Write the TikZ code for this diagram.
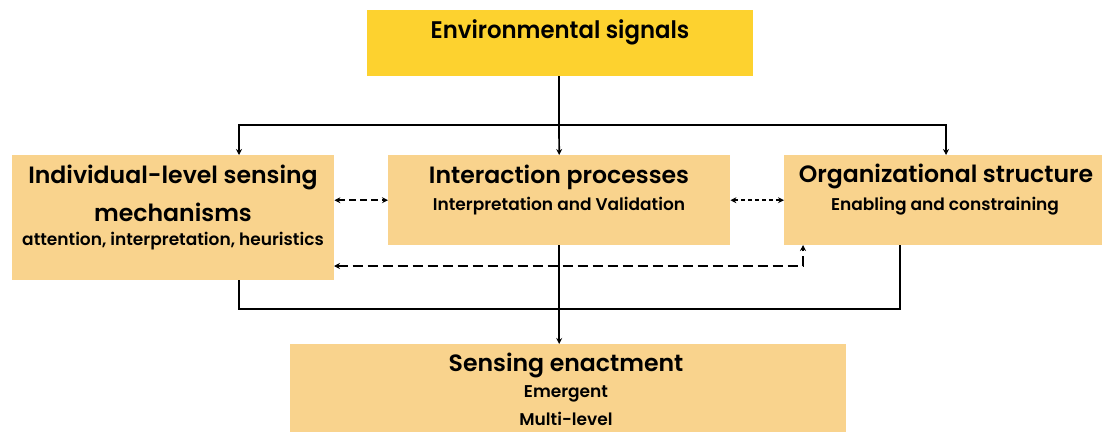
\documentclass[tikz,border=0pt]{standalone}
\usepackage{fontspec}
\setmainfont{Poppins}[BoldFont={Poppins SemiBold}]
\newfontfamily\condfont{Poppins SemiBold}[FakeStretch=0.95]
\usetikzlibrary{arrows.meta}
\definecolor{sigyellow}{HTML}{FDD22F}
\definecolor{boxorange}{HTML}{F9D38D}
\begin{document}
\begin{tikzpicture}[x=1pt,y=-1pt,
  box/.style={fill=boxorange, draw=none, inner sep=0, anchor=north west},
  ttl/.style={font=\bfseries\fontsize{23.6}{28}\selectfont, inner sep=0},
  sub/.style={font=\bfseries\fontsize{17}{20}\selectfont, inner sep=0},
  link/.style={line width=1.7pt, draw=black},
  arr/.style={link, -{Stealth[length=6pt,width=6pt]}},
  darr/.style={link, {Stealth[length=6pt,width=6pt]}-{Stealth[length=6pt,width=6pt]}},
]
\useasboundingbox (0,0) rectangle (1102,431);
\clip (0,0) rectangle (1102,431);

% boxes
\node[box, fill=sigyellow, minimum width=386pt, minimum height=66pt] (E) at (367,10) {};
\node[box, minimum width=322pt, minimum height=125pt] (L) at (12,155) {};
\node[box, minimum width=342pt, minimum height=90pt] (M) at (388,155) {};
\node[box, minimum width=324pt, minimum height=90pt] (R) at (784,155) {};
\node[box, minimum width=556pt, minimum height=100pt] (S) at (290,344) {};

% texts
\node[inner sep=0, font=\condfont\fontsize{24}{28}\selectfont] (Et) at (560,32) {Environmental signals};
\node[ttl] (Lt1) at (173,177) {Individual-level sensing};
\node[ttl] (Lt2) at (173,212) {mechanisms};
\node[sub] (Ls) at (173,241) {attention, interpretation, heuristics};
\node[ttl] (Mt) at (559,177) {Interaction processes};
\node[sub] (Ms) at (559,206) {Interpretation and Validation};
\node[ttl] (Rt) at (946,176) {Organizational structure};
\node[sub] (Rs) at (945,206) {Enabling and constraining};
\node[ttl] (St) at (566,365) {Sensing enactment};
\node[sub] (Ss1) at (566,394) {Emergent};
\node[sub] (Ss2) at (566,419) {Multi-level};

% branching from the environmental signals
\coordinate (split) at (559,125);
\coordinate (Lin) at (239,155);
\coordinate (Rin) at (946,155);
\draw[link] (E.south -| split) -- (split);
\draw[arr] (split) -- (M.north);
\draw[arr] (split) -| (Lin);
\draw[arr] (split) -| (Rin);

% feedback between the three levels
\draw[darr, dash pattern=on 7pt off 4pt] (L.east |- M.east) -- (M.west);
\draw[darr, dash pattern=on 4pt off 3pt] (M.east) -- (R.west);
\coordinate (Lfb) at (334,266);
\coordinate (Rfb) at (803,245);
\draw[darr, dash pattern=on 10pt off 5pt] (Lfb) -| (Rfb);

% joining into sensing enactment
\coordinate (Lout) at (239,280);
\coordinate (Rout) at (900,245);
\coordinate (Ljoin) at (239,309);
\coordinate (Rjoin) at (900,309);
\draw[link] (Lout) -- (Ljoin) -- (Rjoin) -- (Rout);
\draw[arr] (M.south) -- (S.north -| M.south);
\end{tikzpicture}
\end{document}
